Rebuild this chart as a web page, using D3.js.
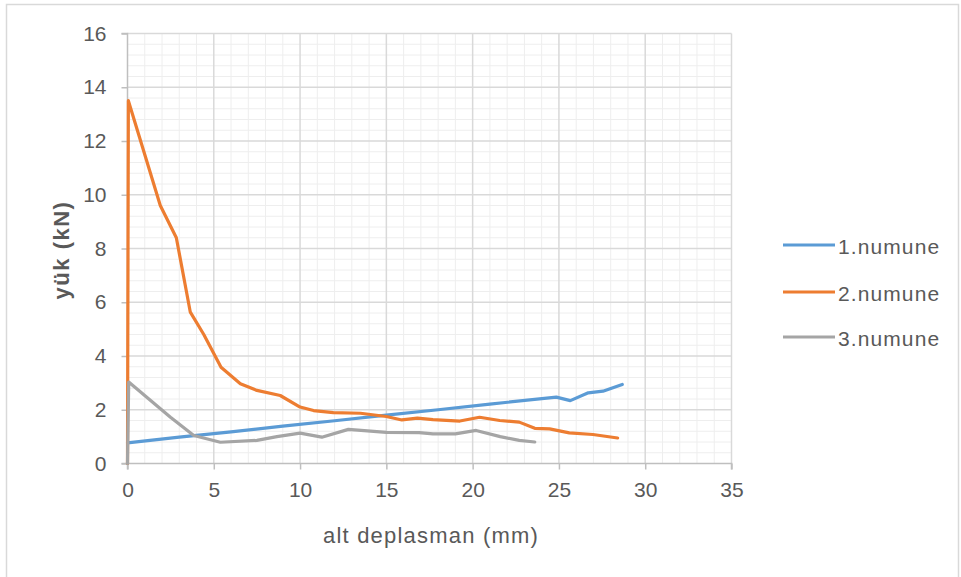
<!DOCTYPE html>
<html>
<head>
<meta charset="utf-8">
<script src="https://cdn.jsdelivr.net/npm/d3@7"></script>
<style>
  html, body { margin: 0; padding: 0; background: #fff; }
  svg { display: block; font-family: "Liberation Sans", Arial, sans-serif; }
</style>
</head>
<body>
<svg id="chart" width="961" height="577"></svg>
<script>
// Load vs. bottom displacement for three specimens
const seriesNames = ["1.numune", "2.numune", "3.numune"];
const seriesColors = ["#5b9bd5", "#ed7d31", "#a5a5a5"];

const numune1X = [0, 3, 6, 9, 12, 15, 18, 21, 24.85, 25.66, 26.7, 27.55, 28.67];
const numune1Y = [0.77, 0.98, 1.18, 1.39, 1.59, 1.80, 2.00, 2.21, 2.47, 2.34, 2.63, 2.69, 2.94];

const numune2X = [0, 0.05, 1.9, 2.83, 3.64, 4.42, 5.42, 6.54, 7.5, 8.85, 10.0, 10.78, 11.93, 13.5, 15.0, 15.9, 16.8, 17.7, 19.26, 20.4, 21.57, 22.7, 23.6, 24.46, 25.6, 26.97, 28.4];
const numune2Y = [0, 13.5, 9.6, 8.4, 5.63, 4.8, 3.58, 2.97, 2.72, 2.53, 2.1, 1.97, 1.89, 1.87, 1.75, 1.62, 1.69, 1.63, 1.58, 1.72, 1.6, 1.54, 1.31, 1.29, 1.14, 1.08, 0.95];

const numune3X = [0, 0.07, 2.49, 3.84, 5.38, 7.5, 8.66, 10.0, 11.26, 12.8, 15.0, 16.9, 17.7, 19.0, 20.2, 21.6, 22.7, 23.6];
const numune3Y = [0, 3.03, 1.72, 1.04, 0.79, 0.86, 1.0, 1.13, 0.98, 1.27, 1.16, 1.15, 1.1, 1.1, 1.23, 1.0, 0.86, 0.8];

const xTicks = [0, 5, 10, 15, 20, 25, 30, 35];
const yTicks = [0, 2, 4, 6, 8, 10, 12, 14, 16];

const svg = d3.select("#chart");

// outer chart frame
svg.append("rect")
  .attr("x", 6.5).attr("y", 4.5)
  .attr("width", 952).attr("height", 580)
  .attr("fill", "#fff").attr("stroke", "#d9d9d9").attr("stroke-width", 1.5);

const plotL = 127.5, plotR = 731.5, plotT = 33.5, plotB = 463.5;
const x = d3.scaleLinear().domain([0, 35]).range([plotL, plotR]);
const y = d3.scaleLinear().domain([0, 16]).range([plotB, plotT]);

// minor grid
const g = svg.append("g");
g.selectAll("line.mx").data(d3.range(0, 35.01, 1).filter(v => v % 5 !== 0))
  .join("line").attr("x1", d => x(d)).attr("x2", d => x(d))
  .attr("y1", plotT).attr("y2", plotB).attr("stroke", "#eeeeee").attr("stroke-width", 1);
g.selectAll("line.my").data(d3.range(0, 16.01, 0.4).filter(v => Math.abs(v / 2 - Math.round(v / 2)) > 1e-6))
  .join("line").attr("y1", d => y(d)).attr("y2", d => y(d))
  .attr("x1", plotL).attr("x2", plotR).attr("stroke", "#eeeeee").attr("stroke-width", 1);

// major grid
g.selectAll("line.Mx").data(xTicks.slice(1))
  .join("line").attr("x1", d => x(d)).attr("x2", d => x(d))
  .attr("y1", plotT).attr("y2", plotB).attr("stroke", "#d9d9d9").attr("stroke-width", 1.5);
g.selectAll("line.My").data(yTicks.slice(1))
  .join("line").attr("y1", d => y(d)).attr("y2", d => y(d))
  .attr("x1", plotL).attr("x2", plotR).attr("stroke", "#d9d9d9").attr("stroke-width", 1.5);

// axes
const xAxis = svg.append("g").attr("transform", `translate(0,${plotB})`)
  .call(d3.axisBottom(x).tickValues(xTicks).tickSize(6).tickPadding(13).tickFormat(d3.format("d")));
const yAxis = svg.append("g").attr("transform", `translate(${plotL},0)`)
  .call(d3.axisLeft(y).tickValues(yTicks).tickSize(6).tickPadding(15).tickFormat(d3.format("d")));
[xAxis, yAxis].forEach(a => {
  a.select(".domain").attr("stroke", "#bfbfbf").attr("stroke-width", 1.5);
  a.selectAll(".tick line").attr("stroke", "#bfbfbf").attr("stroke-width", 1.5);
  a.selectAll(".tick text").attr("fill", "#595959").attr("font-size", 21)
    .attr("font-family", "Liberation Sans, Arial, sans-serif");
});
xAxis.select(".domain").attr("d", `M${plotL},6V0H${plotR}V6`);
yAxis.select(".domain").attr("d", `M-6,${plotT}H0V${plotB}H-6`);

// series
const series = [
  numune1X.map((v, i) => [v, numune1Y[i]]),
  numune2X.map((v, i) => [v, numune2Y[i]]),
  numune3X.map((v, i) => [v, numune3Y[i]])
];
const line = d3.line().x(d => x(d[0])).y(d => y(d[1]));
series.forEach((s, i) => {
  svg.append("path").datum(s).attr("d", line)
    .attr("fill", "none").attr("stroke", seriesColors[i])
    .attr("stroke-width", 3.2).attr("stroke-linejoin", "round").attr("stroke-linecap", "round");
});

// axis titles
svg.append("text").attr("x", 431).attr("y", 543).attr("text-anchor", "middle")
  .attr("fill", "#595959").attr("font-size", 22).attr("letter-spacing", 1.2)
  .text("alt deplasman (mm)");
svg.append("text").attr("transform", "translate(69,250) rotate(-90)").attr("text-anchor", "middle")
  .attr("fill", "#595959").attr("font-size", 22).attr("font-weight", "bold").attr("letter-spacing", 1.5)
  .text("yük (kN)");

// legend
const legendY = [245, 292, 337];
seriesNames.forEach((n, i) => {
  svg.append("line").attr("x1", 783).attr("x2", 835)
    .attr("y1", legendY[i]).attr("y2", legendY[i])
    .attr("stroke", seriesColors[i]).attr("stroke-width", 3.2);
  svg.append("text").attr("x", 838).attr("y", legendY[i] + 9)
    .attr("fill", "#595959").attr("font-size", 21).attr("letter-spacing", 1.1).text(n);
});
</script>
</body>
</html>
